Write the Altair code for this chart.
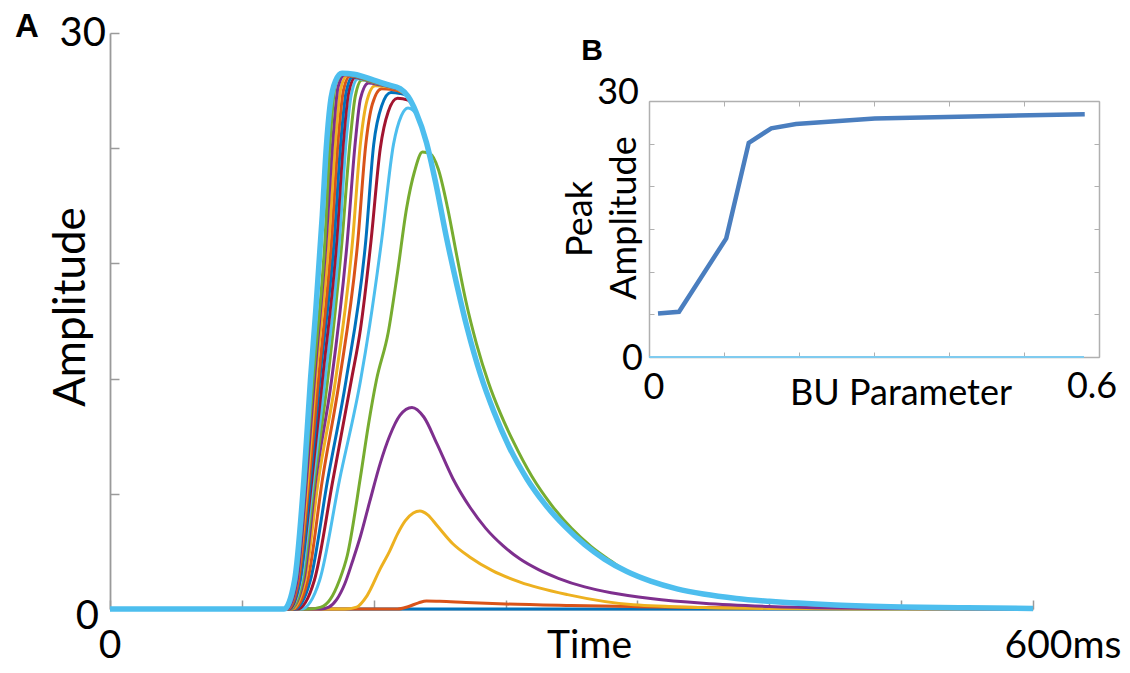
import altair as alt
import pandas as pd

# ---------------- Panel A : amplitude vs time (ms) ----------------
c01_t = [0, 700]
c01_v = [0, 0]
c02_t = [0, 218, 226, 234, 240, 250, 270, 300, 350, 400, 450, 500, 600, 700]
c02_v = [0, 0, 0.12, 0.32, 0.42, 0.40, 0.34, 0.26, 0.18, 0.12, 0.08, 0.05, 0.02, 0]
c03_t = [0, 178, 187, 195, 205, 212, 218, 224, 230, 235, 241, 248, 260, 273, 290, 311, 347, 397, 450, 500, 600, 700]
c03_v = [0, 0, 0.1, 0.7, 2.1, 3.0, 3.9, 4.6, 5.0, 5.1, 4.9, 4.35, 3.4, 2.7, 2.0, 1.4, 0.75, 0.22, 0.08, 0.03, 0, 0]
c04_t = [0, 160, 166, 172, 178, 184, 190, 197, 205, 212, 220, 229, 238, 248, 260, 273, 285, 298, 311, 325, 340, 360, 380, 410, 450, 500, 550, 600, 700]
c04_v = [0, 0, 0.1, 0.5, 1.3, 2.5, 3.8, 5.6, 7.6, 9.0, 10.1, 10.5, 10.0, 8.6, 6.8, 5.3, 4.2, 3.3, 2.6, 2.05, 1.6, 1.15, 0.85, 0.55, 0.3, 0.13, 0.05, 0.02, 0]
c05_t = [0, 150, 160, 167, 174, 180, 190, 196, 202, 211, 218, 225, 231, 237, 243, 249, 256, 263, 270, 278, 287, 296, 306, 320, 335, 350, 365, 380]
c05_v = [0, 0, 0.1, 0.5, 1.5, 2.8, 6.9, 9.6, 11.9, 14.4, 17.5, 20.9, 22.8, 23.8, 23.7, 22.9, 20.9, 18.4, 16.0, 13.8, 11.8, 10.2, 8.7, 6.9, 5.4, 4.2, 3.25, 2.5]
c06_t = [0, 145, 159, 174, 190, 197, 206, 215, 221, 226, 233, 240]
c06_v = [0, 0, 1.5, 6.7, 11.9, 14.8, 19.2, 24.2, 25.7, 26.1, 25.7, 24.3]
c07_t = [0, 142, 155, 169, 183, 190, 198, 205, 211, 218, 226]
c07_v = [0, 0, 1.5, 6.7, 11.9, 14.6, 19.2, 24.0, 25.9, 26.6, 26.5]
c08_t = [0, 140, 152, 165, 179, 194, 200, 206, 213, 220]
c08_v = [0, 0, 1.5, 6.7, 11.9, 19.2, 24.2, 26.2, 26.9, 26.85]
c09_t = [0, 139, 150, 161, 174, 188, 194, 199, 206, 214, 220]
c09_v = [0, 0, 1.5, 6.7, 11.9, 19.2, 24.2, 26.3, 27.1, 27.05, 26.95]
c10_t = [0, 138, 148, 158, 171, 184, 190, 195, 201, 210, 220]
c10_v = [0, 0, 1.5, 6.7, 11.9, 19.2, 24.3, 26.5, 27.25, 27.2, 27.0]
c11_t = [0, 137, 147, 156, 168, 180, 186, 190, 196, 205, 215, 220]
c11_v = [0, 0, 1.5, 6.7, 11.9, 19.2, 24.3, 26.6, 27.4, 27.3, 27.15, 27.05]
c12_t = [0, 137, 146, 155, 165, 176, 182, 186, 191, 200, 210, 220]
c12_v = [0, 0, 1.5, 6.7, 11.9, 19.2, 24.3, 26.7, 27.55, 27.42, 27.25, 27.07]
c13_t = [0, 136, 145, 154, 163, 174, 179, 183, 188, 200, 210, 220]
c13_v = [0, 0, 1.5, 6.7, 11.9, 19.2, 24.3, 26.8, 27.62, 27.43, 27.26, 27.08]
c14_t = [0, 136, 144, 153, 161, 172, 177, 181, 186, 200, 210, 220]
c14_v = [0, 0, 1.5, 6.7, 11.9, 19.2, 24.3, 26.9, 27.68, 27.44, 27.26, 27.08]
c15_t = [0, 135, 144, 152, 159, 170, 175, 179, 184, 200, 210, 220]
c15_v = [0, 0, 1.5, 6.7, 11.9, 19.2, 24.3, 26.9, 27.72, 27.44, 27.27, 27.08]
c16_t = [0, 135, 143, 151, 158, 168, 173, 177, 182, 200, 210, 220]
c16_v = [0, 0, 1.5, 6.7, 11.9, 19.2, 24.4, 27.0, 27.76, 27.45, 27.27, 27.09]
c17_t = [0, 134, 142, 150, 156, 166, 171, 175, 180, 200, 210, 220]
c17_v = [0, 0, 1.5, 6.7, 11.9, 19.2, 24.4, 27.1, 27.8, 27.45, 27.27, 27.09]
c18_t = [0, 134, 142, 149, 155, 164, 169, 173, 178, 200, 210, 220]
c18_v = [0, 0, 1.5, 6.7, 11.9, 19.2, 24.4, 27.2, 27.83, 27.46, 27.28, 27.09]
c19_t = [0, 133, 141, 148, 154, 163, 167, 171, 177, 200, 210, 220]
c19_v = [0, 0, 1.5, 6.7, 11.9, 19.2, 24.4, 27.3, 27.86, 27.47, 27.28, 27.1]
c20_t = [0, 132, 140, 147, 152, 156, 161, 164, 167, 171, 176, 185, 200, 210, 220]
c20_v = [0, 0, 1.5, 6.7, 11.9, 15.5, 20.5, 24.0, 26.3, 27.5, 27.9, 27.85, 27.55, 27.32, 27.1]

# shared falling phase of the large responses
decay_t = [226, 232, 240, 247, 255, 263, 271, 281, 291, 303, 316, 330, 345, 360, 375, 392, 410, 430, 450, 475, 500, 550, 600, 650, 700]
decay_v = [26.7, 25.9, 24.3, 22.2, 19.4, 16.9, 14.6, 12.2, 10.3, 8.4, 6.8, 5.45, 4.3, 3.35, 2.6, 1.95, 1.45, 1.05, 0.78, 0.55, 0.4, 0.21, 0.11, 0.06, 0.03]

curve_times = [c01_t, c02_t, c03_t, c04_t, c05_t, c06_t, c07_t, c08_t, c09_t, c10_t,
               c11_t, c12_t, c13_t, c14_t, c15_t, c16_t, c17_t, c18_t, c19_t, c20_t]
curve_vals = [c01_v, c02_v, c03_v, c04_v, c05_v, c06_v, c07_v, c08_v, c09_v, c10_v,
              c11_v, c12_v, c13_v, c14_v, c15_v, c16_v, c17_v, c18_v, c19_v, c20_v]
joins_decay = [False, False, False, False, True] + [True] * 15

matlab_colors = ["#0072BD", "#D95319", "#EDB120", "#7E2F8E", "#77AC30", "#4DBEEE", "#A2142F"]

# ---------------- Panel B : peak amplitude vs BU parameter ----------------
bu_param = [0.012, 0.04, 0.103, 0.133, 0.163, 0.196, 0.301, 0.581]
peak_amp = [5.1, 5.3, 13.9, 25.1, 26.8, 27.3, 27.95, 28.45]
bu_base = [0.0, 0.58]
base_amp = [0, 0]

# tick values
a_x_ticks = [0, 100, 200, 300, 400, 500, 600, 700]
a_y_ticks = [0, 6, 12, 18, 24, 30]
b_x_ticks = [0, 0.1, 0.2, 0.3, 0.4, 0.5, 0.6]
b_y_ticks = [0, 5, 10, 15, 20, 25, 30]

# ---------------- build table ----------------
rows = []
for i, (ts, vs) in enumerate(zip(curve_times, curve_vals)):
    name = f"s{i + 1:02d}"
    pts = list(zip(ts, vs))
    if joins_decay[i]:
        last = ts[-1]
        pts += [(t, v) for t, v in zip(decay_t, decay_v) if t > last]
    for k, (t, v) in enumerate(pts):
        rows.append({"series": name, "t": t, "v": v, "k": k})
df = pd.DataFrame(rows)
names = [f"s{i + 1:02d}" for i in range(20)]
col_range = [matlab_colors[i % 7] for i in range(20)]

df_thin = df[df.series != "s20"]
df_thick = df[df.series == "s20"]

W, H = 923, 576
FONT = "Lato"
AX_COL = "#9a9a9a"

sx = alt.Scale(domain=[0, 700], nice=False, zero=False)
sy = alt.Scale(domain=[0, 30], nice=False, zero=False)

thin = alt.Chart(df_thin).mark_line(strokeWidth=3, interpolate="monotone").encode(
    x=alt.X("t:Q", scale=sx, axis=alt.Axis(orient="top", offset=-H, values=a_x_ticks, labels=False,
                                             title=None, grid=False, tickSize=9, tickWidth=1.5,
                                             tickColor=AX_COL, domainColor=AX_COL, domainWidth=1.8)),
    y=alt.Y("v:Q", scale=sy, axis=alt.Axis(orient="right", offset=-W, values=a_y_ticks, labels=False,
                                             title=None, grid=False, tickSize=9, tickWidth=1.5,
                                             tickColor=AX_COL, domainColor=AX_COL, domainWidth=1.8)),
    color=alt.Color("series:N", scale=alt.Scale(domain=names, range=col_range), legend=None),
    order="k:Q",
)
thick = alt.Chart(df_thick).mark_line(strokeWidth=5.5, interpolate="monotone", color="#4DBEEE").encode(
    x=alt.X("t:Q", scale=sx, axis=None),
    y=alt.Y("v:Q", scale=sy, axis=None),
    order="k:Q",
)


def label(text, xv, yv, scx, scy, dx=0, dy=0, size=40, align="center", angle=0,
          font=FONT, weight="normal"):
    kw = dict(text=text, dx=dx, dy=dy, fontSize=size, align=align, baseline="middle",
              font=font, fontWeight=weight, color="black")
    if angle:
        kw["angle"] = angle
    return alt.Chart().mark_text(**kw).encode(
        x=alt.XDatum(xv, type="quantitative", scale=scx, axis=None),
        y=alt.YDatum(yv, type="quantitative", scale=scy, axis=None),
    )


main = alt.layer(
    thin, thick,
    label("A", 0, 30, sx, sy, dx=-83, dy=-6, size=33, font="Liberation Sans", weight="bold"),
    label("30", 0, 30, sx, sy, dx=-4, dy=1, align="right"),
    label("0", 0, 0, sx, sy, dx=-11, dy=8, align="right"),
    label("0", 0, 0, sx, sy, dx=0, dy=37, size=39),
    label("Time", 350, 0, sx, sy, dx=18, dy=37, size=39),
    label("600ms", 700, 0, sx, sy, dx=30, dy=37, size=39),
    label("Amplitude", 0, 15, sx, sy, dx=14, dy=-38, size=44, angle=270),
).resolve_axis(x="independent", y="independent")

# inset scales (pixel range inside the plot area)
bx = alt.Scale(domain=[0, 0.6], range=[539, 989], nice=False, zero=False)
by = alt.Scale(domain=[0, 30], range=[324, 68], nice=False, zero=False)
FR_COL = "#b0b0b0"

b_line = alt.Chart(pd.DataFrame({"bu": bu_param, "amp": peak_amp})).mark_line(
    strokeWidth=4.5, color="#4A7EBF").encode(
    x=alt.X("bu:Q", scale=bx, axis=alt.Axis(orient="top", offset=-324, values=b_x_ticks, labels=False,
                                             title=None, grid=False, tickSize=5, tickColor=FR_COL,
                                             domainColor=FR_COL, domainWidth=1.5)),
    y=alt.Y("amp:Q", scale=by, axis=alt.Axis(orient="right", offset=-(W - 539), values=b_y_ticks,
                                              labels=False, title=None, grid=False, tickSize=5,
                                              tickColor=FR_COL, domainColor=FR_COL, domainWidth=1.5)),
)
b_base = alt.Chart(pd.DataFrame({"bu": bu_base, "amp": base_amp})).mark_line(
    strokeWidth=1.8, color="#7FCBEF").encode(
    x=alt.X("bu:Q", scale=bx, axis=alt.Axis(orient="bottom", offset=68 - H, values=b_x_ticks, labels=False,
                                             title=None, grid=False, tickSize=5, tickColor=FR_COL,
                                             domainColor=FR_COL, domainWidth=1.5)),
    y=alt.Y("amp:Q", scale=by, axis=alt.Axis(orient="left", offset=-989, values=b_y_ticks,
                                              labels=False, title=None, grid=False, tickSize=5,
                                              tickColor=FR_COL, domainColor=FR_COL, domainWidth=1.5)),
)

inset = alt.layer(
    b_base, b_line,
    label("B", 0, 30, bx, by, dx=-57, dy=-50, size=30, font="Liberation Sans", weight="bold"),
    label("30", 0, 30, bx, by, dx=-10, dy=-8, size=36, align="right"),
    label("0", 0, 0, bx, by, dx=-6, dy=2, size=36, align="right"),
    label("0", 0, 0, bx, by, dx=5, dy=31, size=36),
    label("BU Parameter", 0.3, 0, bx, by, dx=27, dy=37, size=36),
    label("0.6", 0.6, 0, bx, by, dx=-7, dy=30, size=36),
    label("Peak", 0, 15, bx, by, dx=10, dy=-68, size=36, angle=270),
    label("Amplitude", 0, 15, bx, by, dx=11, dy=-24, size=36, angle=270),
).resolve_axis(x="independent", y="independent")

chart = alt.layer(main, inset).resolve_scale(
    x="independent", y="independent"
).properties(
    width=W, height=H,
    autosize=alt.AutoSizeParams(type="none"),
    padding={"left": 102, "top": 25, "right": 89, "bottom": 56},
    background="white",
).configure_view(stroke=None)

chart.save("out.html", embed_options={"renderer": "svg", "actions": False})
